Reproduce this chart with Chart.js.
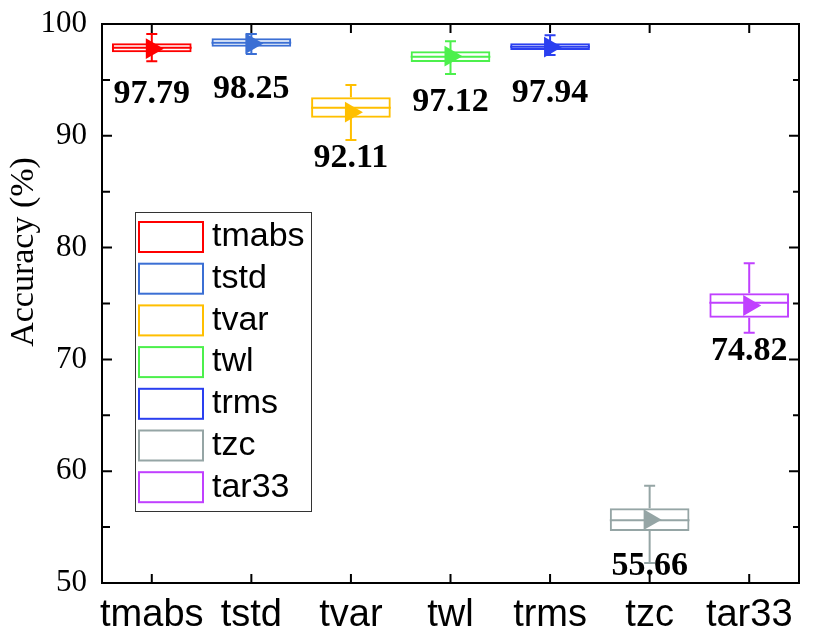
<!DOCTYPE html>
<html>
<head>
<meta charset="utf-8">
<script src="https://cdn.jsdelivr.net/npm/chart.js@4.4.0/dist/chart.umd.min.js"></script>
<style>
  html, body { margin: 0; padding: 0; background: #ffffff; }
  #wrap { width: 816px; height: 636px; }
</style>
</head>
<body>
<div id="wrap"><canvas id="c" width="816" height="636"></canvas></div>
<script>
// ---- data ----
const categories = ['tmabs', 'tstd', 'tvar', 'twl', 'trms', 'tzc', 'tar33'];
const whiskerMin = [96.66, 97.32, 89.62, 95.53, 97.23, 51.80, 72.39];
const q1Values   = [97.47, 97.97, 91.62, 96.60, 97.67, 54.65, 73.73];
const medians    = [97.88, 98.33, 92.51, 97.08, 97.97, 55.61, 75.07];
const q3Values   = [98.27, 98.72, 93.44, 97.56, 98.27, 56.68, 75.91];
const whiskerMax = [99.10, 99.10, 94.54, 98.45, 98.99, 58.70, 78.60];
const means      = [97.79, 98.25, 92.11, 97.12, 97.94, 55.66, 74.82];
const yTicks     = [50, 60, 70, 80, 90, 100];
const yMinorTicks = [55, 65, 75, 85, 95];
const colors = ['#ff0000', '#3b6fd4', '#ffbf00', '#4cf04c', '#2a3ff0', '#95a5a5', '#c040ff'];

const serif = '"Liberation Serif", "Times New Roman", serif';
const sans = '"Liberation Sans", Arial, sans-serif';

const extras = {
  id: 'extras',
  afterDatasetDraw(chart, args) {
    if (args.meta.type !== 'bar') return;
    const { ctx, scales: { x, y } } = chart;
    ctx.save();
    ctx.lineWidth = 2;
    args.meta.data.forEach((bar, i) => {
      const cx = bar.x;
      const half = bar.width / 2;
      const cap = 5.5;
      ctx.strokeStyle = colors[i];
      const pm = y.getPixelForValue(medians[i]);
      const p1 = y.getPixelForValue(q1Values[i]);
      const p3 = y.getPixelForValue(q3Values[i]);
      const pmin = y.getPixelForValue(whiskerMin[i]);
      const pmax = y.getPixelForValue(whiskerMax[i]);
      ctx.beginPath();
      ctx.moveTo(cx - half, pm); ctx.lineTo(cx + half, pm);
      ctx.moveTo(cx, p3); ctx.lineTo(cx, pmax);
      ctx.moveTo(cx - cap, pmax); ctx.lineTo(cx + cap, pmax);
      ctx.moveTo(cx, p1); ctx.lineTo(cx, pmin);
      ctx.moveTo(cx - cap, pmin); ctx.lineTo(cx + cap, pmin);
      ctx.stroke();
    });
    ctx.restore();
  },
  afterDraw(chart) {
    const { ctx, chartArea: a, scales: { x, y } } = chart;
    ctx.save();
    // frame
    ctx.strokeStyle = '#000';
    ctx.lineWidth = 2;
    ctx.strokeRect(a.left, a.top, a.right - a.left, a.bottom - a.top);
    // inward ticks
    ctx.beginPath();
    yTicks.forEach(v => {
      const py = y.getPixelForValue(v);
      ctx.moveTo(a.left, py); ctx.lineTo(a.left + 10, py);
      ctx.moveTo(a.right, py); ctx.lineTo(a.right - 10, py);
    });
    yMinorTicks.forEach(v => {
      const py = y.getPixelForValue(v);
      ctx.moveTo(a.left, py); ctx.lineTo(a.left + 8, py);
      ctx.moveTo(a.right, py); ctx.lineTo(a.right - 6, py);
    });
    categories.forEach((c, i) => {
      const px = x.getPixelForValue(i);
      ctx.moveTo(px, a.top); ctx.lineTo(px, a.top + 9);
      ctx.moveTo(px, a.bottom); ctx.lineTo(px, a.bottom - 9);
    });
    ctx.stroke();

    // mean labels
    ctx.fillStyle = '#000';
    ctx.font = 'bold 34px ' + serif;
    ctx.textAlign = 'center';
    ctx.textBaseline = 'middle';
    means.forEach((m, i) => {
      ctx.fillText(m.toFixed(2), x.getPixelForValue(i), y.getPixelForValue(m) + 46);
    });

    // y title
    ctx.save();
    ctx.translate(24, 252);
    ctx.rotate(-Math.PI / 2);
    ctx.font = '34px ' + serif;
    ctx.textAlign = 'center';
    ctx.textBaseline = 'middle';
    ctx.fillText('Accuracy (%)', 0, 0);
    ctx.restore();

    // legend
    const lx = 135, ly = 212, lw = 176, lh = 299;
    ctx.fillStyle = '#fff';
    ctx.fillRect(lx, ly, lw, lh);
    ctx.strokeStyle = '#333';
    ctx.lineWidth = 1;
    ctx.strokeRect(lx + 0.5, ly + 0.5, lw, lh);
    ctx.font = '34px ' + sans;
    ctx.textAlign = 'left';
    ctx.textBaseline = 'middle';
    categories.forEach((c, i) => {
      const sy = 221 + i * 41.7;
      ctx.strokeStyle = colors[i];
      ctx.lineWidth = 2;
      ctx.strokeRect(139, sy + 1, 64, 30);
      ctx.fillStyle = '#000';
      ctx.fillText(c, 212, sy + 16);
    });
    ctx.restore();
  }
};

new Chart(document.getElementById('c'), {
  data: {
    labels: categories,
    datasets: [
      {
        type: 'bar',
        order: 2,
        data: categories.map((c, i) => [q1Values[i], q3Values[i]]),
        borderColor: colors,
        backgroundColor: 'rgba(255,255,255,0)',
        borderWidth: 2,
        borderSkipped: false,
        categoryPercentage: 1.0,
        barPercentage: 0.8
      },
      {
        type: 'line',
        order: 1,
        data: means,
        showLine: false,
        pointStyle: 'triangle',
        rotation: 90,
        pointRadius: 12,
        pointBorderWidth: 0,
        pointBackgroundColor: colors,
        pointBorderColor: colors
      }
    ]
  },
  options: {
    responsive: false,
    animation: false,
    events: [],
    layout: { padding: { top: 24, right: 17, left: 0, bottom: 0 } },
    plugins: { legend: { display: false }, tooltip: { enabled: false } },
    scales: {
      x: {
        type: 'category',
        offset: true,
        grid: { display: false, drawTicks: false },
        border: { display: false },
        ticks: {
          font: { family: sans, size: 38 },
          color: '#000',
          padding: 10,
          autoSkip: false,
          maxRotation: 0
        },
        afterFit: s => { s.height = 53; s.paddingLeft = 0; s.paddingRight = 0; }
      },
      y: {
        type: 'linear',
        min: 50,
        max: 100,
        grid: { display: false, drawTicks: false },
        border: { display: false },
        ticks: {
          font: { family: serif, size: 31 },
          color: '#000',
          padding: 15
        },
        afterBuildTicks: s => { s.ticks = yTicks.map(v => ({ value: v })); },
        afterFit: s => { s.width = 102; s.paddingTop = 0; s.paddingBottom = 0; }
      }
    }
  },
  plugins: [extras]
});
</script>
</body>
</html>
